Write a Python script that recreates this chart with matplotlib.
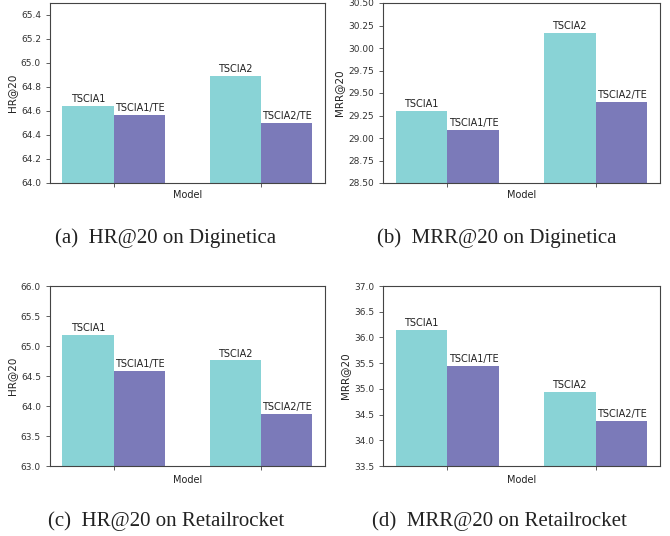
import numpy as np
import matplotlib
matplotlib.use('Agg')
import matplotlib.pyplot as plt

models = ['TSCIA1', 'TSCIA2']
te_models = ['TSCIA1/TE', 'TSCIA2/TE']

hr_dig = [64.64, 64.89]
hr_dig_te = [64.57, 64.50]
mrr_dig = [29.30, 30.17]
mrr_dig_te = [29.09, 29.40]
hr_ret = [65.19, 64.76]
hr_ret_te = [64.58, 63.87]
mrr_ret = [36.15, 34.94]
mrr_ret_te = [35.44, 34.38]

captions = ['(a)  HR@20 on Diginetica', '(b)  MRR@20 on Diginetica',
            '(c)  HR@20 on Retailrocket', '(d)  MRR@20 on Retailrocket']
ylabels = ['HR@20', 'MRR@20', 'HR@20', 'MRR@20']
ylims = [(64.0, 65.5), (28.5, 30.5), (63.0, 66.0), (33.5, 37.0)]
yticks = [np.arange(64.0, 65.41, 0.2), np.arange(28.5, 30.51, 0.25),
          np.arange(63.0, 66.01, 0.5), np.arange(33.5, 37.01, 0.5)]
yfmt = ['%.1f', '%.2f', '%.1f', '%.1f']

data = [(hr_dig, hr_dig_te), (mrr_dig, mrr_dig_te),
        (hr_ret, hr_ret_te), (mrr_ret, mrr_ret_te)]

W, H = 670, 536
fig = plt.figure(figsize=(W / 100, H / 100), dpi=100)

# axes boxes in pixels: left, top, right, bottom
boxes = [(50, 3, 325, 183), (383, 3, 660, 183),
         (50, 286, 325, 466), (383, 286, 660, 466)]
model_y = [195, 195, 480, 480]
cap_x = [166, 497, 166, 499]
cap_y = [238, 238, 521, 521]

c1 = '#89d3d6'
c2 = '#7b7ab9'
edge = '#444444'
width = 0.35
x = np.arange(2)

for i in range(4):
    l, t, r, b = boxes[i]
    ax = fig.add_axes([l / W, 1 - b / H, (r - l) / W, (b - t) / H])
    base, te = data[i]
    ax.bar(x - width / 2, base, width, color=c1)
    ax.bar(x + width / 2, te, width, color=c2)
    pad = (ylims[i][1] - ylims[i][0]) * 0.01
    for xi, v, name in zip(x - width / 2, base, models):
        ax.text(xi, v + pad, name, ha='center', va='bottom', fontsize=7, color='#222222')
    for xi, v, name in zip(x + width / 2, te, te_models):
        ax.text(xi, v + pad, name, ha='center', va='bottom', fontsize=7, color='#222222')
    ax.set_ylim(*ylims[i])
    ax.set_xlim(-0.435, 1.435)
    ax.set_yticks(yticks[i])
    ax.set_yticklabels([yfmt[i] % v for v in yticks[i]], fontsize=6.5, color='#333333')
    ax.set_xticks(x)
    ax.set_xticklabels([])
    ax.tick_params(length=3, width=0.6, color=edge)
    ax.set_ylabel(ylabels[i], fontsize=7.5, color='#222222', labelpad=3)
    for s in ax.spines.values():
        s.set_color(edge)
        s.set_linewidth(0.8)
    fig.text((l + r) / 2 / W, 1 - model_y[i] / H, 'Model', ha='center', va='center',
             fontsize=7, color='#222222')
    fig.text(cap_x[i] / W, 1 - cap_y[i] / H, captions[i], ha='center', va='center',
             fontsize=15, family='Liberation Serif', color='#222222')

fig.savefig('out.png', dpi=100)
